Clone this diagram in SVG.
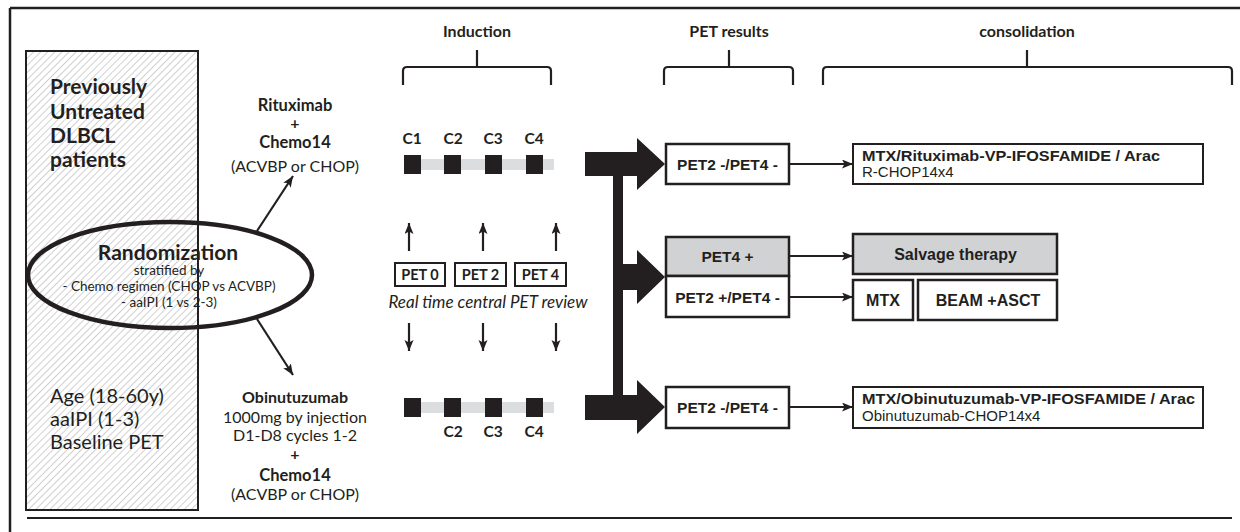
<svg xmlns="http://www.w3.org/2000/svg" width="1240" height="532" viewBox="0 0 1240 532">
<defs>
<pattern id="hatch" patternUnits="userSpaceOnUse" width="5" height="5" patternTransform="rotate(45)">
<line x1="0" y1="0" x2="0" y2="5" stroke="#8a8a8a" stroke-width="0.8"/>
</pattern>
<marker id="ah" markerUnits="userSpaceOnUse" markerWidth="12" markerHeight="10" refX="11" refY="4.5" orient="auto">
<path d="M0,0 L11,4.5 L0,9 L2.5,4.5 z" fill="#231f20"/>
</marker>
</defs>
<style>
.t{fill:#231f20;font-family:Lato,"Liberation Sans",sans-serif}
.b{font-weight:bold}
.m{font-family:"Liberation Sans",Arial,sans-serif}
.c{text-anchor:middle}
.box{fill:#fff;stroke:#231f20;stroke-width:2}
.gbox{fill:#d1d2d4;stroke:#231f20;stroke-width:2.5}
.rbox{fill:#fff;stroke:#231f20;stroke-width:2.5}
.ln{stroke:#231f20;stroke-width:2.2;fill:none}
.br{stroke:#231f20;stroke-width:2.2;fill:none}
.sq{fill:#231f20}
.bar{fill:#dcddde}
</style>
<rect width="1240" height="532" fill="#fff"/>
<!-- frame -->
<g id="frame">
<line x1="10" y1="8" x2="1240" y2="8" stroke="#231f20" stroke-width="2.5"/>
<line x1="10" y1="8" x2="10" y2="532" stroke="#231f20" stroke-width="2.5"/>
<line x1="27" y1="518" x2="1232" y2="518" stroke="#231f20" stroke-width="2"/>
</g>
<!-- patients box -->
<g id="patients">
<rect x="26" y="51" width="172" height="459" fill="url(#hatch)" stroke="#231f20" stroke-width="2"/>
<text class="t b" font-size="21"><tspan x="50" y="94">Previously</tspan><tspan x="50" y="119">Untreated</tspan><tspan x="50" y="143">DLBCL</tspan><tspan x="50" y="167">patients</tspan></text>
<text class="t" font-size="20"><tspan x="50" y="403">Age (18-60y)</tspan><tspan x="50" y="426">aaIPI (1-3)</tspan><tspan x="50" y="449">Baseline PET</tspan></text>
</g>
<!-- randomization -->
<g id="randomization">
<ellipse cx="170" cy="275" rx="142" ry="53" fill="none" stroke="#231f20" stroke-width="4.5"/>
<text class="t b c" x="168" y="260" font-size="21">Randomization</text>
<text class="t c" font-size="13.5"><tspan x="169" y="275">stratified by</tspan><tspan x="169" y="291">- Chemo regimen (CHOP vs ACVBP)</tspan><tspan x="169" y="307">- aaIPI (1 vs 2-3)</tspan></text>
</g>
<!-- arms -->
<g id="arm-r">
<text class="t b c" x="295" y="111" font-size="16.5">Rituximab</text>
<text class="t b c" x="295" y="129" font-size="16">+</text>
<text class="t b c" x="295" y="148" font-size="16.5">Chemo14</text>
<text class="t c" x="295" y="172" font-size="16">(ACVBP or CHOP)</text>
</g>
<g id="arm-g">
<text class="t b c" x="295" y="403" font-size="16">Obinutuzumab</text>
<text class="t c" x="295" y="423" font-size="16">1000mg by injection</text>
<text class="t c" x="295" y="441" font-size="16">D1-D8 cycles 1-2</text>
<text class="t b c" x="295" y="460" font-size="16">+</text>
<text class="t b c" x="295" y="481" font-size="16.5">Chemo14</text>
<text class="t c" x="295" y="500" font-size="16">(ACVBP or CHOP)</text>
</g>
<!-- headers -->
<g id="headers">
<text class="t b c" x="477" y="37" font-size="16">Induction</text>
<text class="t b c" x="729" y="37" font-size="16">PET results</text>
<text class="t b c" x="1027" y="37" font-size="16">consolidation</text>
<path class="br" d="M477,50 V67 M403,85 V71 Q403,67 407,67 H547 Q551,67 551,71 V85"/>
<path class="br" d="M729,50 V67 M664,85 V71 Q664,67 668,67 H789 Q793,67 793,71 V85"/>
<path class="br" d="M1027,50 V67 M823,85 V71 Q823,67 827,67 H1228 Q1232,67 1232,71 V85"/>
</g>
<!-- induction timelines -->
<g id="timeline-r">
<rect class="bar" x="421" y="159" width="133" height="11"/>
<rect class="sq" x="404" y="155" width="17" height="19"/>
<rect class="sq" x="444" y="155" width="17" height="19"/>
<rect class="sq" x="485" y="155" width="17" height="19"/>
<rect class="sq" x="526" y="155" width="17" height="19"/>
<text class="t b c" font-size="15.5"><tspan x="412" y="144">C1</tspan><tspan x="453" y="144">C2</tspan><tspan x="493" y="144">C3</tspan><tspan x="534" y="144">C4</tspan></text>
</g>
<g id="timeline-g">
<rect class="bar" x="421" y="402" width="133" height="11"/>
<rect class="sq" x="404" y="398" width="17" height="19"/>
<rect class="sq" x="444" y="398" width="17" height="19"/>
<rect class="sq" x="485" y="398" width="17" height="19"/>
<rect class="sq" x="526" y="398" width="17" height="19"/>
<text class="t b c" font-size="15.5"><tspan x="453" y="437">C2</tspan><tspan x="493" y="437">C3</tspan><tspan x="534" y="437">C4</tspan></text>
</g>
<g id="pet-review">
<rect class="box" x="395" y="263" width="50" height="23"/>
<rect class="box" x="455" y="263" width="51" height="23"/>
<rect class="box" x="515" y="263" width="51" height="23"/>
<text class="t b c" font-size="14.5"><tspan x="420" y="279.5">PET 0</tspan><tspan x="480.5" y="279.5">PET 2</tspan><tspan x="540.5" y="279.5">PET 4</tspan></text>
<text class="t c" x="488" y="308" font-size="17" font-style="italic">Real time central PET review</text>
</g>
<!-- PET result boxes -->
<g id="pet-neg-r">
<rect class="rbox" x="666" y="144" width="123" height="40"/>
<text class="t m b c" x="727.5" y="169.5" font-size="15.5">PET2 -/PET4 -</text>
</g>
<g id="pet4-pos">
<rect class="gbox" x="666" y="237" width="123" height="39"/>
<text class="t m b c" x="727.5" y="262" font-size="15.5">PET4 +</text>
</g>
<g id="pet2-pos">
<rect class="rbox" x="666" y="276" width="123" height="41"/>
<text class="t m b c" x="727.5" y="302.5" font-size="15.5">PET2 +/PET4 -</text>
</g>
<g id="pet-neg-g">
<rect class="rbox" x="666" y="387" width="123" height="41"/>
<text class="t m b c" x="727.5" y="413" font-size="15.5">PET2 -/PET4 -</text>
</g>
<!-- consolidation boxes -->
<g id="cons-r">
<rect class="box" x="853" y="144" width="350" height="40"/>
<text class="t m b" x="862" y="161" font-size="15" textLength="298" lengthAdjust="spacingAndGlyphs">MTX/Rituximab-VP-IFOSFAMIDE / Arac</text>
<text class="t m" x="862" y="177" font-size="15">R-CHOP14x4</text>
</g>
<g id="salvage">
<rect class="gbox" x="853" y="234" width="204" height="40"/>
<text class="t m b c" x="955.5" y="259.5" font-size="16">Salvage therapy</text>
</g>
<g id="mtx">
<rect class="rbox" x="853" y="280" width="60" height="40"/>
<text class="t m b c" x="883" y="305.5" font-size="16">MTX</text>
</g>
<g id="beam">
<rect class="rbox" x="918" y="280" width="139" height="40"/>
<text class="t m b c" x="988" y="305.5" font-size="16">BEAM +ASCT</text>
</g>
<g id="cons-g">
<rect class="box" x="853" y="387" width="350" height="41"/>
<text class="t m b" x="862" y="404" font-size="15" textLength="333" lengthAdjust="spacingAndGlyphs">MTX/Obinutuzumab-VP-IFOSFAMIDE / Arac</text>
<text class="t m" x="862" y="421" font-size="15">Obinutuzumab-CHOP14x4</text>
</g>
<!-- connectors -->
<g id="connectors">
<line class="ln" x1="257" y1="231" x2="293" y2="176" marker-end="url(#ah)"/>
<line class="ln" x1="257" y1="319" x2="293" y2="375" marker-end="url(#ah)"/>
<line class="ln" x1="409" y1="251" x2="409" y2="223" marker-end="url(#ah)"/>
<line class="ln" x1="483" y1="251" x2="483" y2="223" marker-end="url(#ah)"/>
<line class="ln" x1="556" y1="251" x2="556" y2="223" marker-end="url(#ah)"/>
<line class="ln" x1="409" y1="323" x2="409" y2="351" marker-end="url(#ah)"/>
<line class="ln" x1="483" y1="323" x2="483" y2="351" marker-end="url(#ah)"/>
<line class="ln" x1="556" y1="323" x2="556" y2="351" marker-end="url(#ah)"/>
<line class="ln" x1="789" y1="164" x2="853" y2="164" marker-end="url(#ah)"/>
<line class="ln" x1="789" y1="256" x2="853" y2="256" marker-end="url(#ah)"/>
<line class="ln" x1="789" y1="297" x2="853" y2="297" marker-end="url(#ah)"/>
<line class="ln" x1="789" y1="407" x2="853" y2="407" marker-end="url(#ah)"/>
<g fill="#231f20">
<rect x="613" y="164" width="10" height="244"/>
<path d="M585,152 H637 V138 L665,164 L637,190 V176 H585 z"/>
<path d="M613,264 H637 V250 L665,277 L637,304 V290 H613 z"/>
<path d="M585,395 H637 V380 L665,407 L637,434 V420 H585 z"/>
</g>
</g>
</svg>
